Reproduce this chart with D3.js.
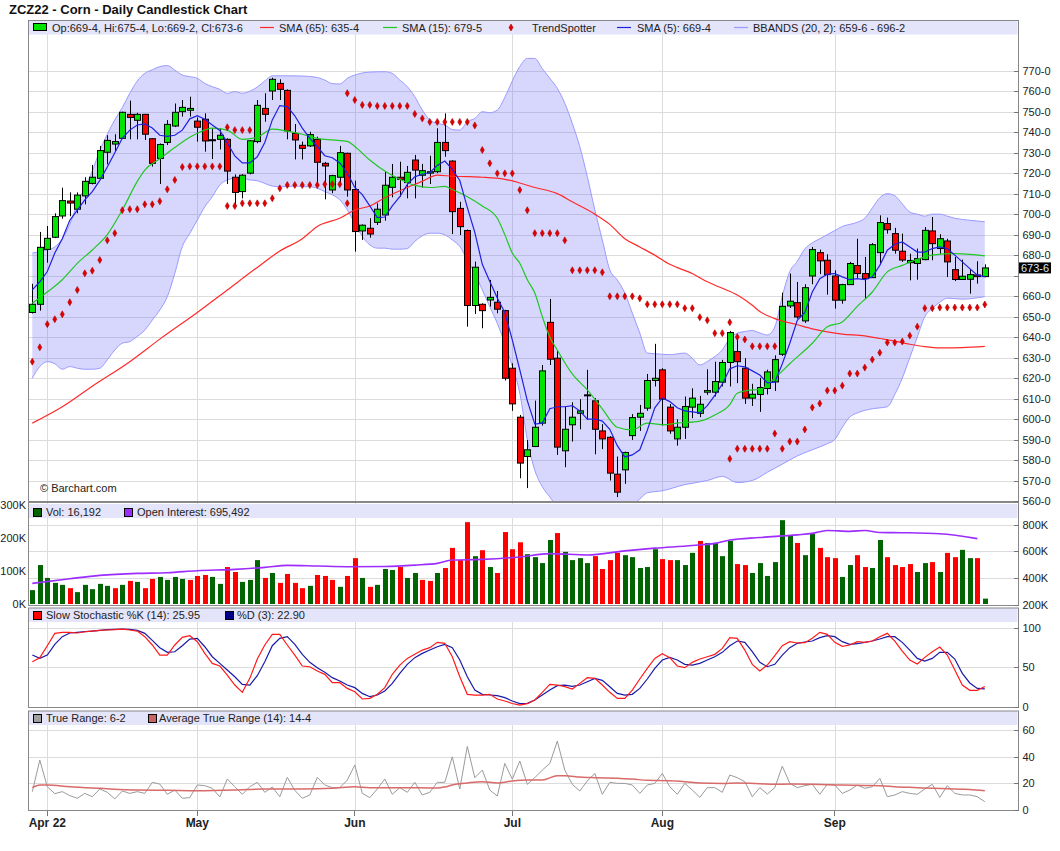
<!DOCTYPE html>
<meta charset="utf-8">
<style>
body { margin: 0; background: #fff; }
text { font-family: "Liberation Sans", Arial, sans-serif; }
.grid line { stroke: #dcdcdc; stroke-width: 1px; shape-rendering: crispEdges; }
.axis path, .axis line { stroke: #777; shape-rendering: crispEdges; }
.axis text { font-size: 11px; fill: #222; }
</style>
<svg width="1060" height="851"></svg>
<script src="https://d3js.org/d3.v7.min.js"></script>
<script>

// trading days, Mar 30 2022 .. Sep 30 2022
var marDays = [30, 31];
var aprDays = [1,4,5,6,7,8,11,12,13,14,18,19,20,21,22,25,26,27,28,29];
var mayDays = [2,3,4,5,6,9,10,11,12,13,16,17,18,19,20,23,24,25,26,27,31];
var junDays = [1,2,3,6,7,8,9,10,13,14,15,16,17,21,22,23,24,27,28,29,30];
var julDays = [1,5,6,7,8,11,12,13,14,15,18,19,20,21,22,25,26,27,28,29];
var augDays = [1,2,3,4,5,8,9,10,11,12,15,16,17,18,19,22,23,24,25,26,29,30,31];
var sepDays = [1,2,6,7,8,9,12,13,14,15,16,19,20,21,22,23,26,27,28,29,30];

var monthTicks = ["2022-04-01","2022-05-02","2022-06-01","2022-07-01","2022-08-01","2022-09-01"];
var monthLabels = ["Apr 22","May","Jun","Jul","Aug","Sep"];

// daily OHLC (cents/bu)
var open = [652,656,682.8,688.7,699.1,706.4,702.4,708.9,715,717.5,
  730.2,734.2,737,748.7,745.8,748.7,736.8,727.2,735,743,
  750,750.7,745.4,746.3,736.3,736.5,736.5,718,711,720,
  735.4,751.6,760.1,763.8,760.4,739.4,733.6,733.3,736.5,724.8,
  711.8,718,729.7,712,691.8,693.1,696,699.6,713.1,718,
  715.4,726.4,719,720,720.7,735,725.9,702.8,692,655.4,
  656,658.1,657,652.9,624.8,600.9,581.7,586.6,598,647.2,
  629.7,584.5,597.2,602.8,611.8,608.9,594.2,591.1,573.1,575.2,
  591.9,600.9,605.3,618.8,624,605.8,590.3,596,605.8,602.8,
  613.1,613.1,618,627.6,632.9,624.8,610.2,612,614.9,618.1,
  631.6,655.2,656.8,647.9,669.8,681.2,677.5,669.8,658,665.6,
  674.9,671,669,681.2,695.4,690.5,681.9,676.3,675.9,677.8,
  691.8,683.2,686.9,672.9,668.1,668.2,670.3,669.5];
var high = [666,691.3,694.2,700.4,712.9,710.6,710.6,718,724,733.3,
  738.5,739,750,755.4,749.5,748.9,737,734.5,745.9,754,
  755.7,757.3,747.2,749.2,741.9,741.9,737,719.4,719.5,736,
  755.7,759,766.6,765.8,760.9,744,735.4,740.2,737.8,725.5,
  719.2,733.3,730,716.3,695,698,705.3,720.7,724.5,725.6,
  723.5,728.9,724.5,728.5,741.9,749.2,726.3,706,692.5,676.8,
  656.5,667.9,662.5,653.3,627.2,602,589.8,609,626.4,658.6,
  633.7,606.1,608.2,609.7,624,610.2,597.5,591.6,581.7,584.1,
  602.4,606.9,622,636.7,624.8,607.4,599.9,611,615,611.3,
  624.3,628,628.9,643,640.7,629.7,617.2,620.1,624.1,631.1,
  661.7,671,666.9,665.8,684,682.7,680.4,672.6,666,676.7,
  688,679.1,685.9,699.4,698.3,693.3,690.5,680.7,683.2,693.7,
  698.6,690.2,688,679.1,677.8,673.1,677,675.5];
var low = [651.5,652.9,676.3,688.3,697.8,699,700.4,704.8,714.5,717,
  724.3,730.5,736.8,736.5,736.5,736.2,723.2,714.7,733.7,742.5,
  747.6,747.6,735.4,730.5,726.9,731.6,714.7,703.7,707.7,719.4,
  734.6,745.1,755.7,755.7,736.5,726.7,726.7,732.8,715,707.2,
  710.2,713.7,708.5,681.7,687.4,688.5,694.7,696.8,708.2,708.5,
  707.7,707.7,712.9,714.7,720,728,690.3,689.8,645.1,651.3,
  644.3,654.9,651.6,618.8,604,571.1,566.3,586.3,596.8,626.4,
  582.5,576.5,589,595,599.6,582.8,585.3,570,561.9,568.4,
  589.8,594.2,604,615.9,596.8,592.8,587,590.3,600.4,600.9,
  611.8,611,615.9,615.9,617.5,607.4,606.4,603.5,612,613.7,
  630.8,654.2,649,646.9,665.8,670.7,660.7,653.9,656.3,665.6,
  668.9,658.8,669,675.9,690.5,680.7,676.7,667.7,668,677.5,
  677.5,680.7,669.3,667.3,668.1,661.2,666.1,669.25];
var close = [656,683.8,688.2,698.8,706.6,705.4,709.3,716,718,731,
  736,735.4,749.7,747.2,748.7,739,724.8,734,743.8,749.7,
  752.1,751.6,742.4,735.7,736,738.5,721,710.6,719,735.8,
  753.1,748.7,765.8,760.9,740.6,736.2,732.1,738.8,725.3,723.5,
  718.8,730,711.8,691.5,694.6,690.3,702.4,714.1,718,717,
  720.4,721.5,721.2,720.7,735,731,701.2,693.9,655.4,674.1,
  652.9,659.4,653.6,619.9,607.4,578.5,585,596,623.5,629.2,
  586.3,595,600.9,604,611.5,595,590.3,573.6,564.3,583.7,
  600.7,602.8,618.8,619.9,609.7,594.2,596,606.1,610.2,607.2,
  613.9,618.3,627.6,642.2,628,610.2,612.1,615.4,623,629,
  655,657.5,649.8,664.1,682.7,677.2,670.5,658,665.6,675.9,
  671,668.5,685.1,695.9,692.4,682.4,677.6,677.4,678.3,692.1,
  685.6,688,676.7,668.1,669.7,670.5,669.5,673.75];

// SMA (5), every day
var sma5 = [663,667,672,681,688,697,702,707,711,716.5,
  723,730,737,741,743.5,744,742,738.5,738,738.5,
  741,746.5,748,746.3,743.5,740.8,734.8,728.4,725,725,
  728,735,746,753,752.5,748,742,737,733,728.5,
  727.5,725,720,713,709.5,704,698.3,698.6,704,708.5,
  714.5,718.2,719.6,720.2,723.8,725.9,721.8,716.4,703.3,691.1,
  675.5,667.1,659.1,652,638.6,624,609,597.5,598,605,
  606,606,606.5,604,600,600,599,595,587,581.5,
  582.5,585,594.5,605.5,610.3,608.5,605.5,604,603.5,603,
  606.5,611.5,617,624.5,626,625.5,623.5,621.5,617.7,618,
  627,637,648.2,652,662,668.5,670.7,671,669.4,668,
  668.5,668,669.4,675,682.4,685.3,686.4,684,681.5,681.5,
  683.2,684,683.2,680,676.7,673.4,670.2,669.5];

// SMA (15), read at these days
var sma15At = [0,2,4,6,8,10,12,14,15,17,19,21,23,24,26,28,30,32,34,36,38,40,42,43,45,47,49,51,53,55,56,58,60,62,63,64,65,66,67,68,69,70,72,74,76,78,80,82,84,86,89,91,93,94,96,97,99,101,104,106,108,110,112,114,116,118,120,123,125,127];
var sma15 = [656.5,662,668,676,682.5,690,702,716,721.5,727,732.5,737.5,741,742,741,736.5,737.5,741.5,740.5,739,737,736.2,735.5,733,726.4,721,717,714,713,713.5,712,708.5,704,698,690,681,676,668,661.5,650,640,633.7,622,614.2,605,596,594.7,598,597.2,598,599,602,607,612.6,614.2,614.4,620,627,637,645,647.4,655,662,671.8,675,678,680,680.7,680.4,679.6];

// SMA (65)
var sma65At = [0,4,8,13,17,22,26,30,33,36,38,41,43,45,47,50,52,54,56,58,60,63,67,70,72,75,77,79,81,83,85,88,90,92,94,96,97,99,102,104,106,108,111,113,115,117,119,121,124,127];
var sma65 = [598,606,616,628,639,652,663,674,682,688,694,698,702,704,708,713,716,719,718.5,718.3,718,717,713,710,706,700,695,688,684,680,675.5,671,667,663.8,660.5,655.5,652.5,649,646,644,642.5,641.4,640.6,639.3,638,636.5,635.3,634.7,634.9,635.5];

// Bollinger bands (20, 2)
var bbUpperAt = [0,1,2,3,4,5,6,7,8,9,10,11,12,13,14,15,16,17,18,19,20,21,22,23,24,25,26,27,28,29,30,31,32,34,36,38,39,40,41,42,43,45,47,48,49,50,51,52,53,54,55,56,57,58,59,60,61,62,63,64,65,66,67,68,69,70,71,72,73,74,75,76,77,78,79,80,81,82,83,85,87,88,89,90,91,92,93,94,95,96,97,98,99,100,101,102,103,104,105,106,107,108,109,110,111,112,113,114,115,116,117,118,119,120,121,122,123,125,127];
var bbUpper = [681,681.7,682.5,684,688,695,705,713,721,731,739,746,752,759,765,768.7,770.5,772,772.5,770.3,767.9,767.1,766.3,763.8,762.2,760.9,758.9,759.8,759,760,762,765,767.5,767.5,767.4,766.7,765.4,763.7,763.5,766.3,767.9,769.3,769.5,768.7,765.4,762.2,757.3,750.8,745.9,744.3,743.5,741.3,741,745.1,746.7,750,749.5,750.8,757,765,772,776,776,771,766.3,761.4,754.1,744.3,732.9,718.3,702.1,687.4,672.8,667.9,661.5,651.7,642,632.2,631.9,631.4,632.2,629.7,626.4,628.1,630.5,633.7,639.4,641.9,642.7,643.2,642,641,645,660,672,677,683,686,688,690,692,694,695,696,698,703,708,710,709,705,701,700,699,700,700,699,698,697,696.25];
var bbLowerAt = [0,1,2,3,4,5,6,7,8,9,10,11,12,13,14,15,16,17,18,19,20,21,22,23,24,25,26,27,28,29,30,31,32,33,34,35,36,37,38,39,40,41,42,43,44,45,46,47,48,49,50,51,52,53,54,55,56,57,58,59,60,61,62,63,64,65,66,67,68,69,70,71,72,73,74,75,76,77,78,79,80,81,82,84,87,90,92,94,96,98,100,102,104,106,107,108,109,110,112,114,115,116,117,118,119,120,121,122,124,127];
var bbLower = [620,625.6,628,627,624.3,625.6,624.8,624.3,624.3,624.8,628.9,633.7,637,637.8,640.3,643.4,648.3,653.2,659.7,671.1,684.1,690.6,697.1,703.6,708.5,714.2,716.7,717.5,717.5,716.7,716.3,715,713.7,713.4,713.4,713.7,713.4,713.4,712.6,711,709.4,707,702.1,695.6,689.1,685,683.4,683.4,682.9,682.9,683.2,686.7,689.4,690.7,690.7,689.9,687.4,684.2,677.6,671.1,663,654.8,646.7,637,625.6,612.6,590,575,567,562,557,554,552,551,551,552,553,554,555,556,558,561,564,565,568,570,572,569,570,574,578,582,585,588,590,596,601,603,605,606,612,620,630,640,650,654,657,659,658.5,659.75];

// TrendSpotter markers (day, price)
var tsAt = [0,1,2,3,4,5,6,7,8,9,10,11,12,13,14,15,16,17,18,19,20,21,22,23,24,25,
  26,27,28,29,
  26,27,28,29,30,31,32,33,34,35,36,37,38,39,40,41,42,
  42,43,44,45,46,47,48,49,50,51,52,53,54,55,56,57,58,59,60,61,62,63,64,65,66,67,68,69,70,71,72,73,74,75,76,77,78,79,80,81,82,83,84,85,86,87,88,89,90,91,92,93,94,95,96,97,98,99,
  93,94,95,96,97,98,99,100,101,102,103,104,105,106,107,108,109,110,111,112,113,114,115,116,117,118,119,120,121,122,123,124,125,126,127];
var tsPrice = [628,635,646.3,648.7,651.1,657,663,671.1,672.4,677.6,687.2,690.7,701.9,702.4,702.4,704.8,704.8,706.3,712.1,716.7,723,723.3,723.3,723.3,723.3,723.3,
  742.4,741,741,741,
  704,704,705.3,705.3,705.3,705.3,707.7,712.6,714.2,714.2,714.2,714.2,714.2,714.6,714.6,714.6,705.3,
  759,755.7,753.3,753.3,752.8,752.8,752.8,752.8,752.8,748.9,746.7,745,745,745,745,745,745,743.3,731.3,724.8,719.9,719.9,719.9,711.8,701.9,690.7,690.7,690.7,690.7,687.2,672.6,672.6,672.6,672.6,671.6,659.9,659.9,659.9,659.9,658.9,656,656,656,656,656,654.1,654.1,649.7,648.2,641.9,641.9,647.2,640,638.8,635.5,635.5,635.5,635.5,
  580.6,585.5,585.5,585.5,585.5,585.5,592.9,585.5,589,589,594.9,605.6,607.6,613.9,613.9,616.3,622.2,622.2,625.1,629,632.4,637.3,637.3,637.8,640.7,645.1,654.1,654.1,654.4,654.4,654.4,654.4,654.4,654.4,655.9];

// volume (thousands) and open interest (thousands)
var volumeK = [42,118,79,64,58,48,36,58,45,61,
  55,48,58,70,67,48,76,82,73,82,
  76,73,85,88,82,61,112,97,67,73,
  133,79,94,64,91,64,48,55,88,85,
  73,52,85,139,79,52,58,106,103,112,
  79,94,73,70,94,109,170,133,248,145,
  163,112,94,218,166,187,151,142,124,194,
  215,158,133,139,124,145,106,133,155,148,
  142,109,112,166,136,133,133,118,155,191,
  185,185,145,191,121,118,94,124,85,127,
  254,209,185,148,212,170,142,139,82,118,
  148,112,109,194,142,118,112,121,97,124,
  127,97,155,142,164,139,139,16.192];
var oiAt = [0,5,9,14,18,22,27,31,34,38,42,47,51,54,56,60,65,69,74,79,83,88,91,93,97,102,104,106,109,111,113,116,121,126];
var oiK = [360,395,420,435,440,455,465,480,495,490,485,487,497,510,535,540,558,583,573,604,624,644,660,685,704,724,735,757,750,757,742,740,732,695.5];

// Slow stochastic
var stochK = [57.1,62.2,77.3,92.9,94.1,94.1,93.3,94.9,95.8,96.6,
  97.1,97.5,98.3,97.1,95.8,88.7,78.2,65.5,65.5,78.2,
  87.8,89.9,82.4,67.6,55,51.7,40.3,27.7,18.5,36.1,
  60.5,78.2,91.6,91.6,78.2,65.5,51.7,50.8,45.4,41.2,
  30.7,30.7,23.5,19.3,10.1,10.9,16,24.4,41.2,52.9,
  61.3,66.4,71.8,74.8,81.5,80.3,63.4,38.2,16,15.1,
  15.1,16,10.1,7.6,4.4,2.5,4.2,8.8,18.5,28.6,
  27.7,25.6,22.7,29.8,37,36.1,27.7,18.5,10.9,10.9,
  21.4,35.3,48.7,61.3,67.2,62.2,51.7,49.6,56.3,60.5,
  63.4,66.4,73.9,87.4,86.6,71.8,53.8,45.4,52.9,64.7,
  77.3,82.4,80.7,81.1,86.6,94.1,91.6,81.5,76.5,78.2,
  82.4,81.5,83.2,88.7,92.9,83.2,70.6,59.2,54.2,62.6,
  69.7,75.6,65.5,46.6,27.7,21,21,25.95];
var stochD = [65.5,61.3,65.5,79,88.7,93.3,94.1,95,95.8,96.6,
  97.5,97.9,98.3,97.9,96.6,92.9,84,74.8,68.9,69.7,
  77.3,85.7,86.6,76,63.4,55,46.6,38.2,28.6,27.7,
  39.5,57.1,77.3,86.6,88.7,79,66.4,56.3,49.6,43.7,
  37,32.8,27.7,24.4,17.2,13,15.1,20.2,29.8,42.4,
  53.8,62.2,67.6,71.8,76,79,74.8,59.2,38.2,21.4,
  16,15.1,14.3,11.8,7.6,4.2,4.6,8.8,15.1,21.4,
  26.9,27.7,26.1,27.7,31.9,36.1,33.6,25.6,17.2,15.1,
  16,23.5,35.3,48.7,59.2,62.6,59.2,53.8,52.9,55,
  59.2,63.4,68.9,77.3,83.2,81.5,69.7,56.3,50.8,53.8,
  65.5,74.8,80.3,82,83.2,87.4,89.9,88.7,82.4,79,
  79.8,81.5,83.2,85.7,88.7,88.7,81.5,71.8,61.3,58,
  61.3,68.9,68.9,60.5,42.4,30.3,23.5,22.9];

// True range and ATR (14)
var trueRange = [13.8,37.5,17.5,12.3,13.8,10.8,8.8,12.5,10,15.8,
  13.3,8.3,14.3,12.5,13.8,12.5,20.8,19.5,11.8,15,
  8.8,9.3,18.8,18.3,16.3,9.8,23.3,17.5,11.8,17.5,
  20.8,13.3,17.3,10,24.5,14.8,8.8,11.3,24.5,18.8,
  16.8,16.8,22.5,33.8,12.5,9.3,15.8,23.3,11.8,16.8,
  13.3,20.8,11.3,13.3,20.8,20.8,40,15.8,47.8,24.3,
  30,15,10.5,35,23.2,36.8,19.3,24.3,30,35,
  51.8,30,19.3,14.3,21.8,27.5,11.8,20.8,20,20,
  18.8,12.5,18.8,20,27.5,17.5,11.8,20,15,9.5,
  16.8,16.8,13.3,26.3,24.3,21.3,10,16.8,12,16.8,
  33,20,16.8,18.3,19.3,11.8,19.3,18.8,12.5,15,
  18.8,16.3,17.5,23.8,10,11.3,13.8,12.5,11.8,15.8,
  19.3,9.5,18.3,12.5,11.3,11.3,10,6.25];
var atrAt = [0,1,2,5,9,14,18,22,27,31,36,40,43,45,49,54,55,56,58,60,62,64,66,68,70,71,73,75,78,80,82,85,87,89,92,94,97,99,101,104,106,108,111,113,115,118,120,122,125,127];
var atr = [16.8,18.8,18.8,17.5,16.3,15,14.8,14.5,15,15.8,15.8,16.3,17.5,16.8,16.8,16.5,17.3,18.8,20.3,21.3,20.3,21.8,22.5,22.5,25.8,25.8,24.8,24.3,23.8,23.3,22.3,22,21.3,20.3,20,20.3,19.8,19.3,19.5,19.3,19,18.8,18.5,18.3,17.5,16.8,16.3,16,15.5,14.5];

function pad(n) { return n < 10 ? "0" + n : "" + n; }
var dates = [];
[[3, marDays],[4, aprDays],[5, mayDays],[6, junDays],[7, julDays],[8, augDays],[9, sepDays]].forEach(function(m) {
  m[1].forEach(function(d) { dates.push("2022-" + pad(m[0]) + "-" + pad(d)); });
});

function fmtPrice(p) {
  var w = Math.floor(p + 1e-9), e = Math.round((p - w) * 8);
  if (e === 8) { w += 1; e = 0; }
  return w + "-" + e;
}

var svg = d3.select("svg");
var left = 28, right = 1018;
var last = close.length - 1;

var x = d3.scaleBand().domain(dates).range([28.55, 28.55 + 7.5 * dates.length]);
function cx(i) { return x(dates[i]) + x.bandwidth() / 2; }

var panels = {
  main:  {top: 20,    bottom: 501},
  vol:   {top: 502,   bottom: 605},
  stoch: {top: 607.5, bottom: 707},
  tr:    {top: 710.5, bottom: 810}
};

var yP = d3.scaleLinear().domain([560, 770]).range([501, 70.7]);
var yV = d3.scaleLinear().domain([0, 300]).range([604, 505]);
var yOI = d3.scaleLinear().domain([200, 800]).range([604.7, 524.7]);
var yS = d3.scaleLinear().domain([0, 100]).range([707, 627.7]);
var yT = d3.scaleLinear().domain([0, 60]).range([810, 730.2]);

// title
svg.append("text").attr("x", 9).attr("y", 14)
  .style("font-size", "13px").style("font-weight", "bold").attr("fill", "#111")
  .text("ZCZ22 - Corn - Daily Candlestick Chart");

// clip paths
var defs = svg.append("defs");
Object.keys(panels).forEach(function(k) {
  var p = panels[k];
  defs.append("clipPath").attr("id", "clip-" + k).append("rect")
    .attr("x", left).attr("y", p.top).attr("width", right - left).attr("height", p.bottom - p.top);
});

// panel grids
function drawGrid(p, scale, values) {
  var g = svg.append("g").attr("class", "grid");
  g.selectAll(".h").data(values).join("line")
    .attr("x1", left).attr("x2", right)
    .attr("y1", function(v) { return Math.round(scale(v)) + 0.5; })
    .attr("y2", function(v) { return Math.round(scale(v)) + 0.5; });
  g.selectAll(".v").data(monthTicks).join("line")
    .attr("x1", function(d) { return Math.round(x(d) + x.bandwidth() / 2) + 0.5; })
    .attr("x2", function(d) { return Math.round(x(d) + x.bandwidth() / 2) + 0.5; })
    .attr("y1", p.top).attr("y2", p.bottom);
}
drawGrid(panels.main, yP, d3.range(570, 771, 10));
drawGrid(panels.vol, yOI, [400, 600, 800]);
drawGrid(panels.stoch, yS, [50, 100]);
drawGrid(panels.tr, yT, [20, 40, 60]);

// legend strips
Object.keys(panels).forEach(function(k) {
  var p = panels[k];
  svg.append("rect").attr("x", left + 0.5).attr("y", p.top + (k === "vol" ? 2 : 0.5))
    .attr("width", right - left - 1).attr("height", 14).attr("fill", "#e4e4fa");
});

// ---------- main panel ----------
var gMain = svg.append("g").attr("clip-path", "url(#clip-main)");

var bandPts = bbUpperAt.map(function(i, k) { return [cx(i), yP(bbUpper[k])]; });
var lowPts = bbLowerAt.map(function(i, k) { return [cx(i), yP(bbLower[k])]; });
var smooth = d3.line().curve(d3.curveMonotoneX);
gMain.append("path")
  .attr("d", smooth(bandPts) + "L" + smooth(lowPts.slice().reverse()).slice(1) + "Z")
  .attr("fill", "rgba(110,110,250,0.28)").attr("stroke", "none");
gMain.append("path").attr("d", smooth(bandPts)).attr("fill", "none").attr("stroke", "#9a9aff").attr("stroke-width", 1);
gMain.append("path").attr("d", smooth(lowPts)).attr("fill", "none").attr("stroke", "#9a9aff").attr("stroke-width", 1);

var idx = d3.range(dates.length);
var candle = gMain.selectAll(".candle").data(idx).join("g");
candle.append("line")
  .attr("x1", function(i) { return Math.round(cx(i)) + 0.5; })
  .attr("x2", function(i) { return Math.round(cx(i)) + 0.5; })
  .attr("y1", function(i) { return yP(high[i]); })
  .attr("y2", function(i) { return yP(low[i]); })
  .attr("stroke", "#000").attr("stroke-width", 1);
candle.append("rect")
  .attr("x", function(i) { return Math.round(cx(i)) - 2.5; })
  .attr("width", 6)
  .attr("y", function(i) { return yP(Math.max(open[i], close[i])); })
  .attr("height", function(i) { return Math.max(1, Math.abs(yP(open[i]) - yP(close[i]))); })
  .attr("fill", function(i) { return close[i] >= open[i] ? "#00e400" : "#ff0000"; })
  .attr("stroke", "#000").attr("stroke-width", 1);

gMain.append("path")
  .attr("d", smooth(sma65At.map(function(i, k) { return [cx(i), yP(sma65[k])]; })))
  .attr("fill", "none").attr("stroke", "#ff2a2a").attr("stroke-width", 1.2);
gMain.append("path")
  .attr("d", smooth(sma15At.map(function(i, k) { return [cx(i), yP(sma15[k])]; })))
  .attr("fill", "none").attr("stroke", "#20c820").attr("stroke-width", 1.2);
gMain.append("path")
  .attr("d", d3.line()(sma5.map(function(v, i) { return [cx(i), yP(v)]; })))
  .attr("fill", "none").attr("stroke", "#2020e0").attr("stroke-width", 1.2);

var diamond = d3.symbol().type(d3.symbolDiamond).size(14);
gMain.selectAll(".ts").data(tsAt).join("path")
  .attr("d", diamond)
  .attr("transform", function(i, k) { return "translate(" + cx(i) + "," + yP(tsPrice[k]) + ")"; })
  .attr("fill", "#e00000").attr("stroke", "#b00000").attr("stroke-width", 0.6);

svg.append("text").attr("x", 40).attr("y", 492).style("font-size", "11px").attr("fill", "#222")
  .text("\u00a9 Barchart.com");

// ---------- volume panel ----------
var gVol = svg.append("g").attr("clip-path", "url(#clip-vol)");
gVol.selectAll(".vb").data(idx).join("rect")
  .attr("x", function(i) { return Math.round(cx(i)) - 2; })
  .attr("width", 5)
  .attr("y", function(i) { return yV(volumeK[i]); })
  .attr("height", function(i) { return yV(0) - yV(volumeK[i]); })
  .attr("fill", function(i) { return (i === 0 || close[i] >= close[i - 1]) ? "#006400" : "#ff0000"; });
gVol.append("path")
  .attr("d", smooth(oiAt.map(function(i, k) { return [cx(i), yOI(oiK[k])]; })))
  .attr("fill", "none").attr("stroke", "#9d2cff").attr("stroke-width", 1.6);

// ---------- stochastic panel ----------
var gSt = svg.append("g").attr("clip-path", "url(#clip-stoch)");
gSt.append("path").attr("d", d3.line()(stochD.map(function(v, i) { return [cx(i), yS(v)]; })))
  .attr("fill", "none").attr("stroke", "#1a1aaa").attr("stroke-width", 1.2);
gSt.append("path").attr("d", d3.line()(stochK.map(function(v, i) { return [cx(i), yS(v)]; })))
  .attr("fill", "none").attr("stroke", "#ff1a1a").attr("stroke-width", 1.2);

// ---------- true range panel ----------
var gTr = svg.append("g").attr("clip-path", "url(#clip-tr)");
gTr.append("path").attr("d", d3.line()(trueRange.map(function(v, i) { return [cx(i), yT(v)]; })))
  .attr("fill", "none").attr("stroke", "#9a9a9a").attr("stroke-width", 1);
gTr.append("path")
  .attr("d", smooth(atrAt.map(function(i, k) { return [cx(i), yT(atr[k])]; })))
  .attr("fill", "none").attr("stroke", "#d86a6a").attr("stroke-width", 1.5);

// panel borders
Object.keys(panels).forEach(function(k) {
  var p = panels[k];
  svg.append("rect").attr("x", left + 0.5).attr("y", p.top + 0.5)
    .attr("width", right - left).attr("height", p.bottom - p.top)
    .attr("fill", "none").attr("stroke", "#888").attr("stroke-width", 1);
});

// right axes
function rightAxis(scale, values, fmt) {
  svg.append("g").attr("class", "axis").attr("transform", "translate(" + (right + 0.5) + ",0)")
    .call(d3.axisRight(scale).tickValues(values).tickFormat(fmt).tickSizeInner(-5).tickSizeOuter(0).tickPadding(4))
    .call(function(g) { g.select(".domain").remove(); });
}
var lastY = yP(close[last]);
// the price label hides the tick label it would overlap
rightAxis(yP, d3.range(560, 771, 10), function(v) {
  return Math.abs(yP(v) - lastY) < 10 ? "" : fmtPrice(v);
});
rightAxis(yOI, [200, 400, 600, 800], function(v) { return v + "K"; });
rightAxis(yS, [0, 50, 100], function(v) { return v; });
rightAxis(yT, [0, 20, 40, 60], function(v) { return v; });

// left volume axis
svg.append("g").attr("class", "axis").attr("transform", "translate(" + (left - 1) + ",0)")
  .call(d3.axisLeft(yV).tickValues([0, 100, 200, 300]).tickFormat(function(v) { return v + "K"; }).tickSize(0).tickPadding(1))
  .call(function(g) { g.select(".domain").remove(); });

// last price box
svg.append("rect").attr("x", right + 1).attr("y", lastY - 5.5).attr("width", 32).attr("height", 11).attr("fill", "#000");
svg.append("text").attr("x", right + 3).attr("y", lastY + 4).style("font-size", "11px").attr("fill", "#d8e6ff")
  .text(fmtPrice(close[last]));

// bottom month axis
svg.append("g").attr("class", "axis").attr("transform", "translate(0," + (panels.tr.bottom + 0.5) + ")")
  .call(d3.axisBottom(x).tickValues(monthTicks).tickFormat(function(d, k) { return monthLabels[k]; }).tickSizeInner(5).tickSizeOuter(0).tickPadding(3))
  .call(function(g) {
    g.select(".domain").remove();
    g.selectAll("text").style("font-weight", "bold").style("font-size", "12px").attr("fill", "#111");
  });

// ---------- legends ----------
function legendText(xp, y, s) {
  svg.append("text").attr("x", xp).attr("y", y).style("font-size", "11px").attr("fill", "#222").text(s);
}
function legendSwatch(xp, y, fill) {
  svg.append("rect").attr("x", xp + 0.5).attr("y", y + 0.5).attr("width", 8).attr("height", 8)
    .attr("fill", fill).attr("stroke", "#000").attr("stroke-width", 1);
}
function legendLine(xp, y, color) {
  svg.append("line").attr("x1", xp).attr("x2", xp + 14).attr("y1", y).attr("y2", y).attr("stroke", color).attr("stroke-width", 1.2);
}
var ly = 31.5;
svg.append("rect").attr("x", 33.5).attr("y", 23.5).attr("width", 13).attr("height", 7)
  .attr("fill", "#00e400").attr("stroke", "#000");
legendText(52, ly, "Op:" + fmtPrice(open[last]) + ", Hi:" + fmtPrice(high[last]) + ", Lo:" + fmtPrice(low[last]) + ", Cl:" + fmtPrice(close[last]));
legendLine(260, 27.5, "#ff2a2a");
legendText(279, ly, "SMA (65): " + fmtPrice(sma65[sma65.length - 1]));
legendLine(383, 27.5, "#20c820");
legendText(402, ly, "SMA (15): " + fmtPrice(sma15[sma15.length - 1]));
svg.append("path").attr("d", diamond).attr("transform", "translate(511,27.5)").attr("fill", "#e00000").attr("stroke", "#b00000").attr("stroke-width", 0.6);
legendText(532, ly, "TrendSpotter");
legendLine(617, 27.5, "#2020e0");
legendText(637, ly, "SMA (5): " + fmtPrice(sma5[last]));
legendLine(734, 27.5, "#9a9aff");
legendText(753, ly, "BBANDS (20, 2): " + fmtPrice(bbLower[bbLower.length - 1]) + " - " + fmtPrice(bbUpper[bbUpper.length - 1]));

var vy = 516;
legendSwatch(33, 508, "#006400");
legendText(46, vy, "Vol: " + d3.format(",")(Math.round(volumeK[last] * 1000)));
legendSwatch(124, 508, "#9d2cff");
legendText(137, vy, "Open Interest: 695,492");

var sy = 619;
legendSwatch(33, 611, "#ff0000");
legendText(46, sy, "Slow Stochastic %K (14): " + d3.format(".2f")(stochK[last]));
legendSwatch(225, 611, "#00008b");
legendText(237, sy, "%D (3): " + d3.format(".2f")(stochD[last]));

var ty = 722;
legendSwatch(33, 714, "#a0a0a0");
legendText(46, ty, "True Range: " + fmtPrice(trueRange[last]));
legendSwatch(148, 714, "#c86464");
legendText(159, ty, "Average True Range (14): " + fmtPrice(atr[atr.length - 1]));

</script>
